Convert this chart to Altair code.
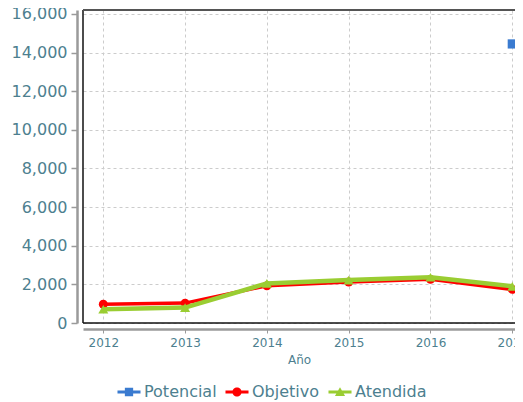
import altair as alt
import pandas as pd

years = [2012, 2013, 2014, 2015, 2016, 2017]
potencial = [None, None, None, None, None, 14450]
objetivo = [970, 1030, 1930, 2120, 2260, 1740]
atendida = [710, 800, 2050, 2224, 2370, 1900]
series = ["Potencial", "Objetivo", "Atendida"]
colors = ["#3a7bd0", "#ff0000", "#9acd32"]
shapes_plot = ["square", "circle", "triangle-up"]
y_ticks = [0, 2000, 4000, 6000, 8000, 10000, 12000, 14000, 16000]

rows = []
for name, vals in zip(series, [potencial, objetivo, atendida]):
    for yr, v in zip(years, vals):
        if v is not None:
            rows.append({"Año": yr, "valor": v, "serie": name})
df = pd.DataFrame(rows)

TEXT = "#4d7f8f"
FONT = "DejaVu Sans"
W, H = 432, 313

leg_paths = [
    "M-1,-0.12H1V0.12H-1Z M-0.36,-0.36H0.36V0.36H-0.36Z",
    "M-1,-0.12H1V0.12H-1Z M-0.4,0A0.4,0.4 0 1,1 0.4,0A0.4,0.4 0 1,1 -0.4,0Z",
    "M-1,-0.12H1V0.12H-1Z M0,-0.42L0.44,0.34L-0.44,0.34Z",
]

x_enc = alt.X(
    "Año:Q",
    scale=alt.Scale(domain=[2011.752, 2017.033], nice=False, zero=False),
    axis=alt.Axis(
        values=years, format="d", title="Año", offset=6,
        domainColor="#9a9a9a", domainWidth=2.5, tickColor="#9a9a9a", tickSize=4,
        labelFont=FONT, labelFontSize=12, labelColor=TEXT, labelPadding=4,
        titleFont=FONT, titleFontSize=12, titleFontWeight="normal", titleColor=TEXT, titlePadding=6,
        grid=True, gridColor="#cccccc", gridDash=[3, 3], gridWidth=1,
    ),
)
y_enc = alt.Y(
    "valor:Q",
    scale=alt.Scale(domain=[0, 16207], nice=False),
    axis=alt.Axis(
        values=y_ticks, format=",d", title=None, offset=6,
        domainColor="#9a9a9a", domainWidth=2.5, tickColor="#9a9a9a", tickSize=6, tickWidth=1.5,
        labelFont=FONT, labelFontSize=16, labelColor=TEXT, labelPadding=4,
        grid=True, gridColor="#cccccc", gridDash=[3, 3], gridWidth=1,
    ),
)

base = alt.Chart(df)
layers = []

# plot frame (left, top, bottom; right edge lies beyond the visible page)
frame = alt.Chart(pd.DataFrame({"k": [0]}))
layers.append(frame.mark_rule(color="#111111", strokeWidth=1.5).encode(
    x=alt.value(0), y=alt.value(0), y2=alt.value(H)))
layers.append(frame.mark_rule(color="#555555", strokeWidth=2).encode(
    x=alt.value(0), x2=alt.value(W), y=alt.value(0)))
layers.append(frame.mark_rule(color="#111111", strokeWidth=1.5).encode(
    x=alt.value(0), x2=alt.value(W), y=alt.value(H)))

widths = {"Potencial": 3, "Objetivo": 3.5, "Atendida": 4.5}
sizes = {"Potencial": 85, "Objetivo": 80, "Atendida": 100}
for name in ["Objetivo", "Atendida", "Potencial"]:
    i = series.index(name)
    sub = base.transform_filter(alt.datum.serie == name)
    layers.append(
        sub.mark_line(strokeWidth=widths[name], color=colors[i]).encode(x=x_enc, y=y_enc)
    )
    layers.append(
        sub.mark_point(filled=True, opacity=1, shape=shapes_plot[i], size=sizes[name], color=colors[i])
        .encode(x=x_enc, y=y_enc)
    )

leg = alt.Legend(
    orient="none", legendX=34, legendY=370, direction="horizontal", title=None,
    labelFont=FONT, labelFontSize=16, labelColor=TEXT, symbolSize=530,
    symbolOpacity=1, symbolStrokeWidth=0, columnPadding=8, labelOffset=3, padding=0,
)
legend_layer = base.mark_point(filled=True, opacity=0).encode(
    x=x_enc, y=y_enc,
    color=alt.Color("serie:N", scale=alt.Scale(domain=series, range=colors), legend=leg),
    shape=alt.Shape("serie:N", scale=alt.Scale(domain=series, range=leg_paths), legend=leg),
)
layers.append(legend_layer)

chart = alt.layer(*layers).properties(
    width=W, height=H,
    autosize=alt.AutoSizeParams(type="none"),
    padding={"left": 75, "top": 2, "right": 0, "bottom": 80},
).configure_view(strokeWidth=0, stroke=None)

chart.save("out.html", embed_options={"renderer": "svg", "actions": False})
